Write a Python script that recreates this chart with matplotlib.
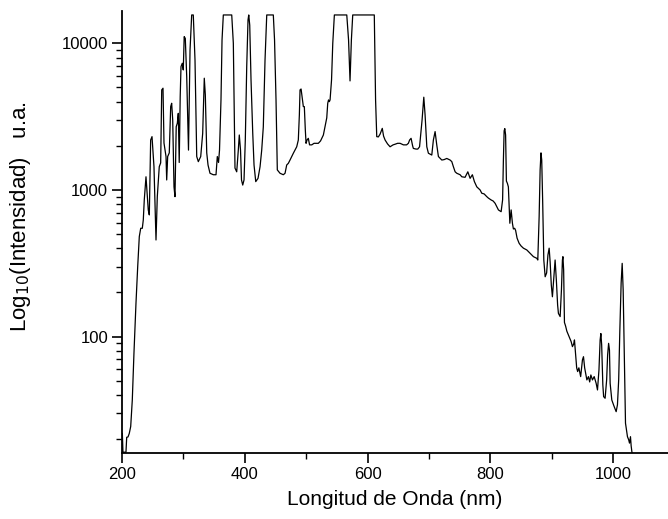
import matplotlib
matplotlib.use("Agg")
import matplotlib.pyplot as plt
from matplotlib.ticker import LogLocator, NullFormatter, FixedLocator

plt.rcParams['font.family'] = ['Liberation Sans', 'DejaVu Sans']

# wavelength (nm) and intensity (a.u.)
wl = [200.5, 200.6, 201.6, 206.5, 207.7, 209.8, 211.9, 214.2, 216.8, 219.5,
      222.8, 225.6, 228.2, 230.5, 233.1, 234.7, 236.3, 239.1, 242.8, 244.5,
      246.7, 248.9, 252.1, 255.4, 257.5, 260.7, 263.0, 264.7, 266.8, 268.4,
      271.7, 272.8, 274.4, 277.0, 279.3, 280.9, 282.6, 284.7, 286.3, 288.3,
      290.1, 291.7, 293.2, 294.8, 296.1, 298.2, 299.8, 301.3, 303.1, 305.4,
      308.3, 310.8, 313.5, 316.1, 318.9, 321.7, 324.3, 328.2, 331.4, 334.0,
      335.7, 338.0, 340.1, 343.3, 348.7, 353.1, 355.2, 357.2, 358.8, 361.2,
      362.9, 365.0, 378.7, 381.3, 382.9, 384.0, 386.8, 389.4, 391.0, 393.0,
      394.6, 396.6, 398.7, 400.8, 403.1, 405.2, 406.4, 408.0, 410.1, 412.9,
      415.0, 417.8, 421.5, 424.8, 427.5, 430.1, 432.9, 435.7, 446.4, 448.4,
      450.8, 452.9, 457.3, 462.7, 465.5, 468.2, 470.9, 473.6, 479.0, 484.5,
      487.1, 488.8, 489.9, 491.6, 494.0, 495.3, 496.9, 498.5, 499.7, 501.3,
      503.4, 505.4, 509.0, 512.7, 519.7, 523.3, 527.9, 530.6, 533.4, 535.0,
      536.3, 537.6, 538.8, 541.2, 543.2, 545.8, 566.0, 568.9, 571.3, 573.5,
      575.7, 610.8, 612.9, 614.8, 617.4, 620.2, 623.8, 625.9, 628.4, 632.4,
      636.5, 641.4, 644.6, 648.7, 652.8, 658.2, 663.4, 666.3, 668.3, 670.7,
      673.2, 674.4, 678.8, 681.6, 684.5, 687.0, 688.6, 691.4, 693.5, 696.3,
      698.9, 704.4, 707.0, 709.8, 712.5, 715.2, 720.7, 724.4, 728.8, 734.2,
      737.0, 739.6, 742.4, 745.1, 750.5, 753.3, 758.6, 763.1, 766.8, 770.5,
      773.8, 777.7, 783.1, 785.8, 789.6, 794.0, 796.6, 801.0, 804.3, 807.5,
      812.9, 817.3, 819.7, 821.0, 822.2, 823.3, 824.6, 825.9, 827.5, 829.1,
      831.5, 833.6, 835.7, 837.3, 839.3, 840.9, 843.3, 846.6, 849.8, 853.6,
      859.1, 864.5, 869.9, 875.4, 877.0, 879.2, 880.8, 882.2, 883.4, 884.9,
      886.8, 889.0, 891.4, 893.5, 895.5, 897.1, 899.0, 900.8, 902.8, 905.2,
      907.2, 909.3, 910.6, 913.4, 915.5, 917.1, 917.9, 919.1, 920.4, 922.3,
      924.3, 928.0, 931.3, 933.4, 935.4, 936.7, 938.3, 940.3, 941.9, 943.9,
      946.8, 949.7, 951.4, 953.3, 956.9, 959.5, 961.5, 963.4, 966.0, 968.8,
      972.0, 974.2, 976.6, 978.5, 979.7, 981.0, 982.9, 984.2, 986.6, 989.1,
      990.7, 992.3, 993.7, 994.8, 997.5, 1001.3, 1004.6, 1006.7, 1008.7, 1010.6,
      1012.7, 1014.4, 1016.0, 1018.1, 1019.8, 1023.0, 1025.0, 1026.3, 1027.9, 1029.0,
      1030.2, 1033.0]

inten = [16.3, 21.9, 16.3, 16.3, 20.6, 20.7, 21.9, 24.4, 37, 77,
         169, 300, 481, 548, 548, 625, 855, 1230, 731, 676,
         2190, 2310, 1440, 456, 900, 1440, 1530, 4810, 4940, 2090,
         1690, 1170, 1690, 1790, 3700, 3900, 3000, 1050, 900, 2700,
         2850, 3330, 1540, 4330, 6930, 7310, 6580, 11100, 10800, 5920,
         1870, 9000, 15600, 15600, 7690, 1690, 1560, 1690, 2430, 5780,
         4450, 1790, 1480, 1300, 1270, 1270, 1690, 1540, 1870, 4110,
         10540, 15600, 15600, 10000, 3000, 1410, 1330, 1870, 2370, 1870,
         1170, 1080, 1170, 2190, 6930, 14400, 15600, 13300, 5630, 2440,
         1480, 1140, 1200, 1440, 1870, 2690, 7690, 15600, 15600, 10540,
         4110, 1370, 1300, 1270, 1300, 1480, 1520, 1600, 1780, 1970,
         2190, 3250, 4810, 4880, 4110, 3700, 3700, 2570, 2080, 2190,
         2250, 2030, 2030, 2080, 2080, 2160, 2370, 2700, 3100, 3900,
         4110, 4000, 4110, 5630, 10000, 15600, 15600, 10540, 5540, 10540,
         15600, 15600, 4110, 2310, 2300, 2400, 2630, 2330, 2190, 2060,
         1970, 2030, 2050, 2080, 2080, 2030, 2030, 2080, 2190, 2250,
         2000, 1920, 1900, 1900, 1970, 2570, 3000, 4290, 3250, 1970,
         1780, 1730, 2190, 2500, 2030, 1690, 1600, 1610, 1640, 1600,
         1560, 1440, 1330, 1300, 1270, 1230, 1220, 1330, 1200, 1270,
         1140, 1050, 1000, 950, 940, 900, 880, 855, 841, 811,
         731, 711, 855, 1600, 2530, 2620, 2370, 1150, 1110, 1050,
         593, 731, 593, 542, 548, 530, 469, 433, 415, 401,
         390, 370, 351, 342, 333, 658, 1370, 1790, 1600, 855,
         333, 256, 272, 360, 401, 323, 225, 187, 244, 333,
         244, 164, 144, 137, 208, 333, 351, 285, 125, 118,
         109, 99.8, 92.5, 85.5, 89, 95, 78.7, 61.3, 57.8, 61.3,
         53.4, 69.4, 73, 61.3, 50.7, 53.4, 49.1, 54.8, 50.7, 53.4,
         48.1, 43.3, 59.3, 95, 105, 88, 46.9, 39, 38, 50.7,
         75, 90, 81, 48.1, 37, 33.4, 30.8, 34.3, 50.7, 111,
         232, 316, 208, 62.4, 25.7, 20.8, 19.8, 18.8, 20.8, 18.0,
         16.4, 14.5]

xticks = [200, 400, 600, 800, 1000]
yticks = [100, 1000, 10000]

fig = plt.figure(figsize=(6.68, 5.19), dpi=100)
ax = fig.add_axes([0.1826, 0.1272, 0.8174, 0.8516])
ax.plot(wl, inten, color='black', lw=0.9)

ax.set_yscale('log')
ax.set_xlim(200, 1089)
ax.set_ylim(16.1, 16600)

ax.set_xticks(xticks)
ax.xaxis.set_minor_locator(FixedLocator([300, 500, 700, 900, 1100]))
ax.yaxis.set_major_locator(FixedLocator(yticks))
ax.set_yticklabels([str(t) for t in yticks])
ax.yaxis.set_minor_locator(LogLocator(base=10, subs=range(2, 10)))
ax.yaxis.set_minor_formatter(NullFormatter())

ax.spines['top'].set_visible(False)
ax.spines['right'].set_visible(False)
ax.spines['left'].set_linewidth(1.3)
ax.spines['bottom'].set_linewidth(1.3)
ax.tick_params(which='major', direction='out', length=7, width=1.2, labelsize=12, pad=3)
ax.tick_params(which='minor', direction='out', length=4, width=1.0)

ax.set_xlabel('Longitud de Onda (nm)', fontsize=15, labelpad=6)
ax.set_ylabel('Log$_{10}$(Intensidad)   u.a.', fontsize=16)
ax.yaxis.set_label_coords(-0.163, 0.534)

fig.savefig('out.png', dpi=100)
